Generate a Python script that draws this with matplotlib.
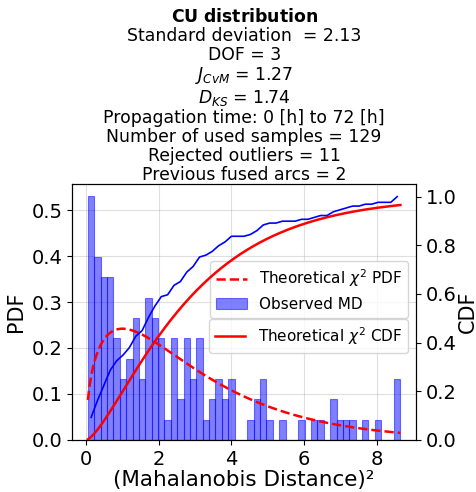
import math
import matplotlib
matplotlib.use("Agg")
import matplotlib.pyplot as plt
import numpy as np

# Histogram of squared Mahalanobis distances (counts per bin)
counts = [12, 9, 8, 8, 5, 3, 4, 6, 3, 7, 6, 5, 1,
          5, 2, 5, 3, 5, 1, 2, 3, 2, 3, 0, 0,
          1, 2, 3, 1, 0, 1, 0, 0, 1, 0, 1, 1, 0, 2,
          1, 1, 1, 0, 1, 0, 1, 0, 0, 3]
x_min = 0.05
x_max = 8.65
n_samples = 129
dof = 3

title_lines = [
    r"$\bf{CU\ distribution}$",
    "Standard deviation  = 2.13",
    "DOF = 3",
    r"$J_{CvM}$ = 1.27",
    r"$D_{KS}$ = 1.74",
    "Propagation time: 0 [h] to 72 [h]",
    "Number of used samples = 129",
    "Rejected outliers = 11",
    "Previous fused arcs = 2",
]

# bins
n_bins = len(counts)
edges = np.linspace(x_min, x_max, n_bins + 1)
width = edges[1] - edges[0]
centers = 0.5 * (edges[:-1] + edges[1:])
density = np.array(counts) / (n_samples * width)
emp_cdf = np.cumsum(counts) / n_samples


# chi-square (3 dof) pdf / cdf
def chi2_pdf(x):
    return np.sqrt(x) * np.exp(-x / 2) / math.sqrt(2 * math.pi)


def chi2_cdf(x):
    erf = np.vectorize(math.erf)
    return erf(np.sqrt(x / 2)) - np.sqrt(2 * x / math.pi) * np.exp(-x / 2)


xs = np.linspace(x_min, x_max, 300)

fig = plt.figure(figsize=(4.77, 4.92), dpi=100)
ax1 = fig.add_axes([0.1516, 0.1057, 0.7205, 0.5203])

ax1.bar(edges[:-1], density, width=width, align="edge", color="blue",
        alpha=0.5, edgecolor="blue", linewidth=0.8, label="Observed MD")
ax1.plot(xs, chi2_pdf(xs), "r--", linewidth=1.8,
         label=r"Theoretical $\chi^2$ PDF")
ax1.set_ylabel("PDF", fontsize=15)
ax1.set_xlabel("(Mahalanobis Distance)²", fontsize=15.5, labelpad=1)
ax1.tick_params(labelsize=14)
ax1.grid(True, alpha=0.4)
ax1.set_axisbelow(True)
ax1.set_title("\n".join(title_lines), fontsize=12.4, linespacing=1.08, pad=-4)

ax2 = ax1.twinx()
ax2.plot(xs, chi2_cdf(xs), "r-", linewidth=1.8,
         label=r"Theoretical $\chi^2$ CDF")
ax2.plot(centers, emp_cdf, "b-", linewidth=1.2)
ax2.set_ylim(0, 1.052)
ax2.set_ylabel("CDF", fontsize=15, labelpad=1)
ax2.tick_params(labelsize=14)

ax1.legend(loc="lower right", bbox_to_anchor=(0.977, 0.478),
           borderaxespad=0, fontsize=11)
ax2.legend(loc="upper right", bbox_to_anchor=(0.977, 0.473),
           borderaxespad=0, fontsize=11)

fig.savefig("out.png", dpi=100)
